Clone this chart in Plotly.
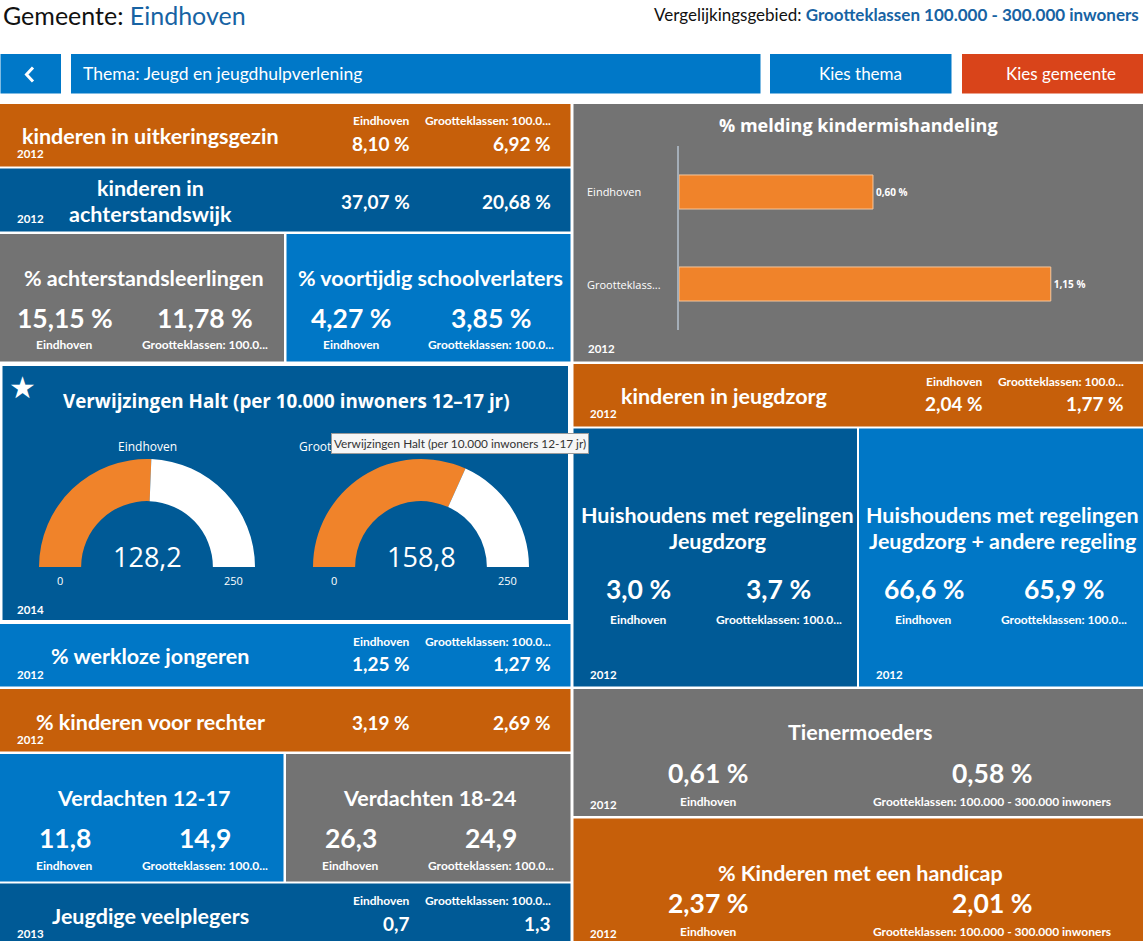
import plotly.graph_objects as go

W, H = 1143, 941

# ---------------- data ----------------
gemeente = "Eindhoven"
vergelijkingsgebied = "Grootteklassen 100.000 - 300.000 inwoners"
label_eind = "Eindhoven"
label_groot_short = "Grootteklassen: 100.0..."
label_groot_long = "Grootteklassen: 100.000 - 300.000 inwoners"
thema = "Thema: Jeugd en jeugdhulpverlening"
button_labels = ["Kies thema", "Kies gemeente"]

ind_titles = [
    "kinderen in uitkeringsgezin",
    "kinderen in<br>achterstandswijk",
    "% achterstandsleerlingen",
    "% voortijdig schoolverlaters",
    "% werkloze jongeren",
    "% kinderen voor rechter",
    "Verdachten 12-17",
    "Verdachten 18-24",
    "Jeugdige veelplegers",
    "kinderen in jeugdzorg",
    "Huishoudens met regelingen<br>Jeugdzorg",
    "Huishoudens met regelingen<br>Jeugdzorg + andere regeling",
    "Tienermoeders",
    "% Kinderen met een handicap",
]
ind_eindhoven = [8.10, 37.07, 15.15, 4.27, 1.25, 3.19, 11.8, 26.3, 0.7, 2.04, 3.0, 66.6, 0.61, 2.37]
ind_grootteklasse = [6.92, 20.68, 11.78, 3.85, 1.27, 2.69, 14.9, 24.9, 1.3, 1.77, 3.7, 65.9, 0.58, 2.01]
ind_decimals = [2, 2, 2, 2, 2, 2, 1, 1, 1, 2, 1, 1, 2, 2]
ind_units = [" %", " %", " %", " %", " %", " %", "", "", "", " %", " %", " %", " %", " %"]
ind_years = [2012, 2012, None, None, 2012, 2012, None, None, 2013, 2012, 2012, 2012, 2012, 2012]

mk_title = "% melding kindermishandeling"
mk_categories = ["Eindhoven", "Grootteklass..."]
mk_values = [0.60, 1.15]
mk_year = 2012

halt_title = "Verwijzingen Halt (per 10.000 inwoners 12\u201317 jr)"
halt_tooltip = "Verwijzingen Halt (per 10.000 inwoners 12-17 jr)"
halt_labels = ["Eindhoven", "Grootteklassen: 100.000 - 300.000 inwoners"]
halt_values = [128.2, 158.8]
halt_min, halt_max = 0, 250
halt_year = 2014

# ---------------- styles ----------------
ORANGE = "#C65F0A"
DARK = "#005A96"
BLUE = "#0077C6"
GRAY = "#737373"
BTN_BLUE = "#0078C8"
BTN_RED = "#D9441A"
BAR_ORANGE = "#F0832A"
HEAD_BLUE = "#1763A3"
LATO = "Lato"
HC = "Open Sans"
TITLE_SIZE = 21.5
LABEL_SIZE = 12
LINE_SPACING = 26

# tile geometry in pixels: kind, x0, y0, x1, y1, fill (same order as ind_* lists)
tile_geom = [
    ("row", 0, 104, 570.5, 166.5, ORANGE),
    ("row_nolabel", 0, 168.5, 570.5, 231.5, DARK),
    ("box", 0, 234, 284, 361.5, GRAY),
    ("box", 286.5, 234, 570.5, 361.5, BLUE),
    ("row", 0, 624, 570.5, 686.5, BLUE),
    ("row_nolabel", 0, 689, 570.5, 751.5, ORANGE),
    ("box", 0, 754, 283.5, 881.5, BLUE),
    ("box", 286, 754, 570.5, 881.5, GRAY),
    ("row", 0, 883.5, 570.5, 945, DARK),
    ("row", 573.5, 364, 1143, 426.5, ORANGE),
    ("tall", 573.5, 428.5, 857, 686.5, DARK),
    ("tall", 859, 428.5, 1143, 686.5, BLUE),
    ("wide", 573.5, 689, 1143, 816, GRAY),
    ("wide2", 573.5, 818.5, 1143, 945, ORANGE),
]

kinds = {
    "row": dict(title=(150, 32), cols=(411.5, 552.5), anchor="right", val_dy=39.5, lab_dy=17,
                year=(15, 50), val_size=19, labels=label_groot_short),
    "row_nolabel": dict(title=(150, 32.5), cols=(411.5, 552.5), anchor="right", val_dy=33, lab_dy=None,
                        year=(15, 50), val_size=19, labels=None),
    "box": dict(title=(144, 44.3), cols=(64.5, 204.5), anchor="center", val_dy=84.3, lab_dy=111,
                year=None, val_size=26.5, labels=label_groot_short),
    "tall": dict(title=(143.5, 99), cols=(64.5, 205), anchor="center", val_dy=160.2, lab_dy=190.8,
                 year=(15, 246), val_size=26.5, labels=label_groot_short),
    "wide": dict(title=(287, 43.3), cols=(135, 418.5), anchor="center", val_dy=84.3, lab_dy=112,
                 year=(14, 115), val_size=26.5, labels=label_groot_long),
    "wide2": dict(title=(287, 54.8), cols=(135, 418.5), anchor="center", val_dy=84.8, lab_dy=112.5,
                  year=(14, 115), val_size=26.5, labels=label_groot_long),
}


def fmt(v, d, unit=""):
    return f"{v:.{d}f}".replace(".", ",") + unit


def px(x):
    return x / W


def py(y):
    return 1 - y / H


fig = go.Figure()
shapes = []


def rect(x0, y0, x1, y1, fill, line=None):
    shapes.append(dict(type="rect", xref="paper", yref="paper", x0=px(x0), x1=px(x1),
                       y0=py(y1), y1=py(y0), fillcolor=fill, layer="below",
                       line=dict(width=0) if line is None else line))


def text(txt, x, y, size, bold=True, anchor="center", color="white", family=LATO, **kw):
    fig.add_annotation(text=txt, x=px(x), y=py(y), xref="paper", yref="paper",
                       xanchor=anchor, yanchor="middle", showarrow=False,
                       font=dict(family=family, size=size, color=color,
                                 weight="bold" if bold else "normal"), **kw)


def title_lines(txt, x, yc, size, spacing):
    lines = txt.split("<br>")
    n = len(lines)
    for i, ln in enumerate(lines):
        text(ln, x, yc + (i - (n - 1) / 2) * spacing, size)


# ---------------- header ----------------
text(f"Gemeente: <span style='color:{HEAD_BLUE}'>{gemeente}</span>", 1, 15, 25, bold=False,
     anchor="left", color="#111111")
text(f"Vergelijkingsgebied: <span style='color:{HEAD_BLUE}'><b>{vergelijkingsgebied}</b></span>",
     1141, 15, 17, bold=False, anchor="right", color="#111111")

# buttons
rect(0.5, 54, 61, 93.5, BTN_BLUE)
rect(71, 54, 760.5, 93.5, BTN_BLUE)
rect(770, 54, 951.5, 93.5, BTN_BLUE)
rect(962, 54, 1143, 93.5, BTN_RED)
shapes.append(dict(type="path", xref="paper", yref="paper",
                   path=f"M {px(33)} {py(67.5)} L {px(26.5)} {py(74.5)} L {px(33)} {py(81.5)}",
                   line=dict(color="white", width=3)))
text(thema, 81, 74, 17.5, bold=False, anchor="left")
text(button_labels[0], 860.5, 74, 17, bold=False)
text(button_labels[1], 1061, 74, 17, bold=False)

# ---------------- indicator tiles ----------------
for i, (kind, x0, y0, x1, y1, fill) in enumerate(tile_geom):
    rect(x0, y0, x1, y1, fill)
    k = kinds[kind]
    tx, ty = k["title"]
    if kind in ("wide", "wide2"):
        tx = (x1 - x0) / 2 + 2
    title_lines(ind_titles[i], x0 + tx, y0 + ty, TITLE_SIZE, LINE_SPACING)
    d, u = ind_decimals[i], ind_units[i]
    vals = [fmt(ind_eindhoven[i], d, u), fmt(ind_grootteklasse[i], d, u)]
    labs = [label_eind, k["labels"]]
    for c in range(2):
        text(vals[c], x0 + k["cols"][c], y0 + k["val_dy"], k["val_size"], anchor=k["anchor"])
        if k["lab_dy"] is not None:
            text(labs[c], x0 + k["cols"][c], y0 + k["lab_dy"], LABEL_SIZE, anchor=k["anchor"])
    if k["year"] is not None and ind_years[i] is not None:
        text(str(ind_years[i]), x0 + k["year"][0], y0 + k["year"][1], 11.5, anchor="left")

# ---------------- bar chart tile ----------------
rect(573.5, 104, 1143, 361.5, GRAY)
text(mk_title, 858, 124.5, 18, family=HC)
text(str(mk_year), 586, 349, 11.5, anchor="left")
bar_x0, bar_x1 = 679, 1110
px_per_unit = 323.3
fig.add_trace(go.Bar(
    x=mk_values, y=mk_categories, orientation="h", width=0.37,
    marker=dict(color=BAR_ORANGE, line=dict(color="#F6C69C", width=1)),
    text=[fmt(v, 2, " %") for v in mk_values], textposition="outside",
    textfont=dict(family=HC, size=10, color="white", weight="bold"),
    cliponaxis=False, hoverinfo="skip", showlegend=False,
))
for cat in mk_categories:
    fig.add_annotation(text=cat, x=px(584.5), xref="paper", y=cat, yref="y", xanchor="left",
                       yanchor="middle", showarrow=False,
                       font=dict(family=HC, size=11, color="white"))

# ---------------- gauge tile ----------------
rect(1.5, 365, 569, 621, DARK, line=dict(color="white", width=2))
text("\u2605", 22, 387, 30, bold=False, family="DejaVu Sans")
text(halt_title, 286, 400.5, 18.8, family=HC)
text(str(halt_year), 15, 609, 11.5, anchor="left")
gauge_cx = [147, 421]
gauge_cy = 567
gauge_r = 108
hole = 0.61
for cx, v, lab in zip(gauge_cx, halt_values, halt_labels):
    fig.add_trace(go.Pie(
        values=[v - halt_min, halt_max - v, halt_max - halt_min],
        sort=False, direction="clockwise", rotation=-90, hole=hole,
        marker=dict(colors=[BAR_ORANGE, "white", "rgba(0,0,0,0)"], line=dict(width=0)),
        textinfo="none", hoverinfo="skip", showlegend=False,
        domain=dict(x=[px(cx - gauge_r), px(cx + gauge_r)],
                    y=[py(gauge_cy + gauge_r), py(gauge_cy - gauge_r)]),
    ))
    text(fmt(v, 1), cx, 556.5, 27, bold=False, family=HC)
    mid = gauge_r * (1 + hole) / 2
    text(str(halt_min), cx - mid, 580, 11, bold=False, family=HC)
    text(str(halt_max), cx + mid, 580, 11, bold=False, family=HC)
    text(lab, cx, 446, 12, bold=False, family=HC)

# hover tooltip visible in the screenshot
text(halt_tooltip, 459.5, 443.5, 11.8, bold=False, color="#333333",
     bgcolor="#F6F6F6", bordercolor="#9A9A9A", borderwidth=1, borderpad=2)

fig.update_layout(
    width=W, height=H, margin=dict(l=0, r=0, t=0, b=0),
    paper_bgcolor="white", plot_bgcolor="rgba(0,0,0,0)",
    shapes=shapes, showlegend=False,
    xaxis=dict(domain=[px(bar_x0), px(bar_x1)],
               range=[0, (bar_x1 - bar_x0) / px_per_unit],
               visible=False, fixedrange=True),
    yaxis=dict(domain=[py(330), py(146)], autorange="reversed",
               showticklabels=False, showgrid=False, zeroline=False, ticks="",
               showline=True, linecolor="#A4AEB8", linewidth=2, fixedrange=True),
)

fig.write_html("out.html", config={"displayModeBar": False},
               post_script="document.body.style.margin='0';document.body.style.overflow='hidden';")
